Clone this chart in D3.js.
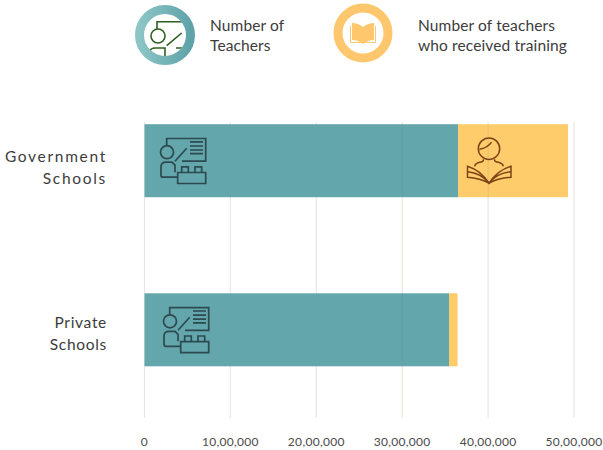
<!DOCTYPE html>
<html>
<head>
<meta charset="utf-8">
<script src="https://cdn.jsdelivr.net/npm/d3@7/dist/d3.min.js"></script>
<style>
html,body{margin:0;padding:0;background:#fff}
svg{display:block}
text{font-family:Lato,"Noto Sans",sans-serif}
</style>
</head>
<body>
<svg id="chart" width="603" height="450"></svg>
<script>
const categories = ["Government Schools", "Private Schools"];
const teachers = [3650000, 3545000];
const trained = [1280000, 100000];
const tickValues = [0, 1000000, 2000000, 3000000, 4000000, 5000000];
const tickLabels = ["0", "10,00,000", "20,00,000", "30,00,000", "40,00,000", "50,00,000"];
const categoryLines = [["Government", "Schools"], ["Private", "Schools"]];
const categoryLabelTop = [161.5, 328];
const legendLabels = [["Number of", "Teachers"], ["Number of teachers", "who received training"]];

const svg = d3.select("#chart");
const x = d3.scaleLinear().domain([0, 5000000]).range([144.5, 574]);
const bandY = d3.scalePoint().domain(categories).range([160.7, 329.8]);
const barH = 73;

const defs = svg.append("defs");
const grad = defs.append("linearGradient").attr("id", "ring").attr("x1", 0).attr("x2", 1).attr("y1", 0).attr("y2", 0);
grad.append("stop").attr("offset", 0).attr("stop-color", "#8cc5c6");
grad.append("stop").attr("offset", 1).attr("stop-color", "#5fa3a9");
defs.append("clipPath").attr("id", "inner")
  .append("circle").attr("cx", 165).attr("cy", 35).attr("r", 21);

// vertical grid
svg.append("g").selectAll("line").data(tickValues).join("line")
  .attr("x1", d => x(d)).attr("x2", d => x(d))
  .attr("y1", 122).attr("y2", 418)
  .attr("stroke", "#eee5e0").attr("stroke-width", 1.2);

// stacked bars
const bars = svg.append("g");
bars.selectAll("rect.teachers").data(categories).join("rect").attr("class", "teachers")
  .attr("x", x(0)).attr("y", d => bandY(d) - barH / 2)
  .attr("width", (d, i) => x(teachers[i]) - x(0)).attr("height", barH)
  .attr("fill", "#63a6ab");
bars.selectAll("rect.trained").data(categories).join("rect").attr("class", "trained")
  .attr("x", (d, i) => x(teachers[i])).attr("y", d => bandY(d) - barH / 2)
  .attr("width", (d, i) => x(teachers[i] + trained[i]) - x(teachers[i])).attr("height", barH)
  .attr("fill", "#fecc6b");

// grid lines showing faintly through the bars at the two upper ticks
categories.forEach((c, i) => {
  const total = teachers[i] + trained[i];
  svg.append("g").selectAll("line").data(tickValues.slice(3, 5).filter(t => t < total)).join("line")
    .attr("x1", d => x(d)).attr("x2", d => x(d))
    .attr("y1", bandY(c) - barH / 2).attr("y2", bandY(c) + barH / 2)
    .attr("stroke", "#6f7d7d").attr("stroke-opacity", 0.13).attr("stroke-width", 1.2);
});

// x axis labels
svg.append("g").selectAll("text").data(tickValues).join("text")
  .attr("x", d => x(d)).attr("y", 446)
  .attr("text-anchor", "middle").attr("font-size", 12).attr("letter-spacing", 0.3).attr("fill", "#4a4a4a")
  .text((d, i) => tickLabels[i]);

// category labels
categoryLines.forEach((lines, i) => {
  lines.forEach((t, j) => {
    svg.append("text").attr("x", 107).attr("y", categoryLabelTop[i] + j * 22)
      .attr("text-anchor", "end").attr("font-size", 15.5)
      .attr("letter-spacing", i === 0 ? 1.7 : 0.7)
      .attr("fill", "#3c3c3c").text(t);
  });
});

// teacher pictogram: presenter, board and blocks
function teacherIcon(g, stroke) {
  const p = g.append("g").attr("fill", "none").attr("stroke", stroke).attr("stroke-width", 1.7);
  p.append("circle").attr("cx", 7).attr("cy", 15).attr("r", 6.5);
  p.append("path").attr("d", "M6.7 8.5 V1.3 H45.7 V24 H22");
  p.append("path").attr("d", "M15 24 L26.7 11");
  p.append("path").attr("d", "M30 4.7 H43 M30 8.8 H43 M30 12.8 H43 M30 16.5 H43");
  p.append("path").attr("d", "M17.7 40 H3 Q1 40 1 38 V30 Q1 25 6 25 H12 L15 28 V35");
  p.append("path").attr("d", "M17.7 35.3 H45.7 V46.3 H17.7 Z");
  p.append("path").attr("d", "M21.7 35.3 V29.7 H28.3 V35.3 M35 35.3 V29.7 H41.7 V35.3");
}

// reader pictogram: head above an open book
function readerIcon(g, stroke) {
  const p = g.append("g").attr("fill", "none").attr("stroke", stroke).attr("stroke-width", 1.5);
  p.append("circle").attr("cx", 22.5).attr("cy", 11.5).attr("r", 10.7);
  p.append("path").attr("d", "M13 12 Q21 11 25 5");
  p.append("path").attr("d", "M17 22 Q17 25 13 25 Q9 26 8 29 M28 22 Q28 25 32 25 Q36 26 37 29");
  p.append("path").attr("d", "M22.5 46 Q14 33 1 29 V40 Q14 41 22.5 46 Q31 41 44.5 40 V29 Q31 33 22.5 46 Z");
  p.append("path").attr("d", "M1 34.5 Q15 36 22.5 46 Q30 36 44.5 34.5");
}

teacherIcon(svg.append("g").attr("transform", `translate(160,${bandY(categories[0]) - 23.5})`), "#2c4a50");
teacherIcon(svg.append("g").attr("transform", `translate(163,${bandY(categories[1]) - 23.5})`), "#2c4a50");
readerIcon(svg.append("g").attr("transform", `translate(466.5,${bandY(categories[0]) - 23.5})`), "#7d4317");

// legend: ring with the teacher mark cropped inside
const l1 = svg.append("g");
l1.append("circle").attr("cx", 165).attr("cy", 35).attr("r", 25.5).attr("fill", "none").attr("stroke", "url(#ring)").attr("stroke-width", 9);
const lp = l1.append("g").attr("clip-path", "url(#inner)")
  .append("g").attr("fill", "none").attr("stroke", "#2f5f1f").attr("stroke-width", 1.6);
lp.append("circle").attr("cx", 158).attr("cy", 36).attr("r", 7);
lp.append("path").attr("d", "M157 29 V21.7 H184 M166.7 45.7 L181.7 33 M150 54 V51 Q151 48 155 48 H165 V56 M176 48 H184");

svg.append("circle").attr("cx", 363).attr("cy", 33).attr("r", 25).attr("fill", "none").attr("stroke", "#fec76d").attr("stroke-width", 9);
const book = svg.append("g").attr("transform", "translate(351,23)");
book.append("path").attr("d", "M12 4 Q7 0 1 0 V17 Q7 17 12 21 Q17 17 23 17 V0 Q17 0 12 4 Z").attr("fill", "#fec76d");
book.append("path").attr("d", "M-0.5 3 V19.5 H10 M24.5 3 V19.5 H14").attr("fill", "none").attr("stroke", "#fec76d").attr("stroke-width", 1);

// legend labels
const legendX = [210, 418];
legendLabels.forEach((lines, i) => lines.forEach((t, j) => {
  svg.append("text").attr("x", legendX[i]).attr("y", 31 + j * 19.5)
    .attr("font-size", 15.5).attr("letter-spacing", 0.12).attr("fill", "#3c3c3c").text(t);
}));
</script>
</body>
</html>
